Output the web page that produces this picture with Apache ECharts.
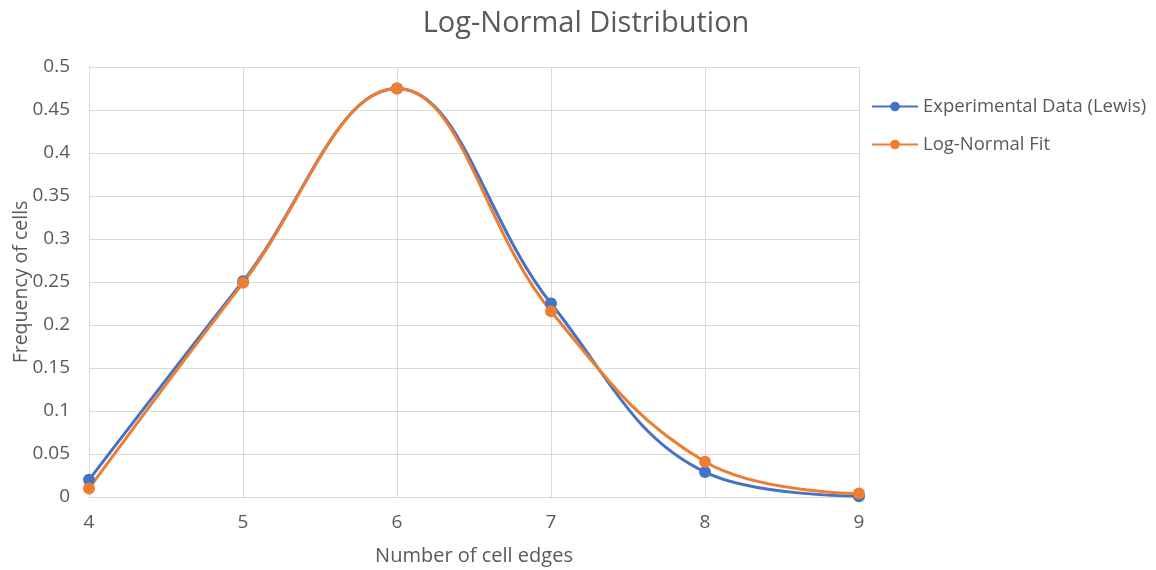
<!DOCTYPE html>
<html><head><meta charset="utf-8">
<script src="https://cdn.jsdelivr.net/npm/echarts@6/dist/echarts.min.js"></script>
<style>html,body{margin:0;padding:0;background:#fff}#c{width:1156px;height:570px}</style>
</head><body><div id="c"></div>
<script>
const edges = [4, 5, 6, 7, 8, 9];
const experimental = [0.020, 0.251, 0.475, 0.225, 0.029, 0.001];
const lognormalFit = [0.010, 0.249, 0.475, 0.216, 0.041, 0.004];
const yTicks = [0, 0.05, 0.1, 0.15, 0.2, 0.25, 0.3, 0.35, 0.4, 0.45, 0.5];

const font = '"Open Sans", "Noto Sans", sans-serif';
const chart = echarts.init(document.getElementById('c'));
chart.setOption({
  animation: false,
  textStyle: { fontFamily: font, color: '#595959' },
  title: { text: 'Log-Normal Distribution', left: 581, top: 4, textAlign: 'center',
    textStyle: { fontFamily: font, fontSize: 29, fontWeight: 'normal', color: '#595959' } },
  legend: { orient: 'vertical', left: 866, top: 92, itemGap: 19, itemWidth: 46, itemHeight: 12,
    textStyle: { fontFamily: font, fontSize: 18.5, color: '#595959' },
    data: ['Experimental Data (Lewis)', 'Log-Normal Fit'] },
  grid: { left: 89, right: 297, top: 67, bottom: 73, containLabel: false, outerBoundsMode: 'none' },
  xAxis: { type: 'value', min: 4, max: 9, interval: 1,
    name: 'Number of cell edges', nameLocation: 'middle', nameGap: 49, nameMoveOverlap: false,
    nameTextStyle: { fontFamily: font, fontSize: 20, color: '#595959' },
    axisLine: { lineStyle: { color: '#d9d9d9', width: 1 } },
    axisTick: { show: false },
    axisLabel: { fontFamily: font, fontSize: 19, color: '#595959', margin: 16 },
    splitLine: { show: true, lineStyle: { color: '#d9d9d9', width: 1 } } },
  yAxis: { type: 'value', min: 0, max: 0.5, interval: 0.05,
    name: 'Frequency of cells', nameLocation: 'middle', nameGap: 58, nameMoveOverlap: false,
    nameTextStyle: { fontFamily: font, fontSize: 19.5, color: '#595959' },
    axisLine: { show: true, lineStyle: { color: '#d9d9d9', width: 1 } },
    axisTick: { show: false },
    axisLabel: { fontFamily: font, fontSize: 19, color: '#595959', margin: 19,
      formatter: v => { const t = yTicks.find(x => Math.abs(x - v) < 1e-9); return String(t !== undefined ? t : v); } },
    splitLine: { show: true, lineStyle: { color: '#d9d9d9', width: 1 } } },
  series: [
    { name: 'Experimental Data (Lewis)', type: 'line', smooth: 0.4,
      data: edges.map((e, i) => [e, experimental[i]]),
      symbol: 'circle', symbolSize: 12,
      itemStyle: { color: '#4472C4' }, lineStyle: { color: '#4472C4', width: 3 } },
    { name: 'Log-Normal Fit', type: 'line', smooth: 0.4,
      data: edges.map((e, i) => [e, lognormalFit[i]]),
      symbol: 'circle', symbolSize: 12,
      itemStyle: { color: '#ED7D31' }, lineStyle: { color: '#ED7D31', width: 3 } }
  ]
});
</script></body></html>
